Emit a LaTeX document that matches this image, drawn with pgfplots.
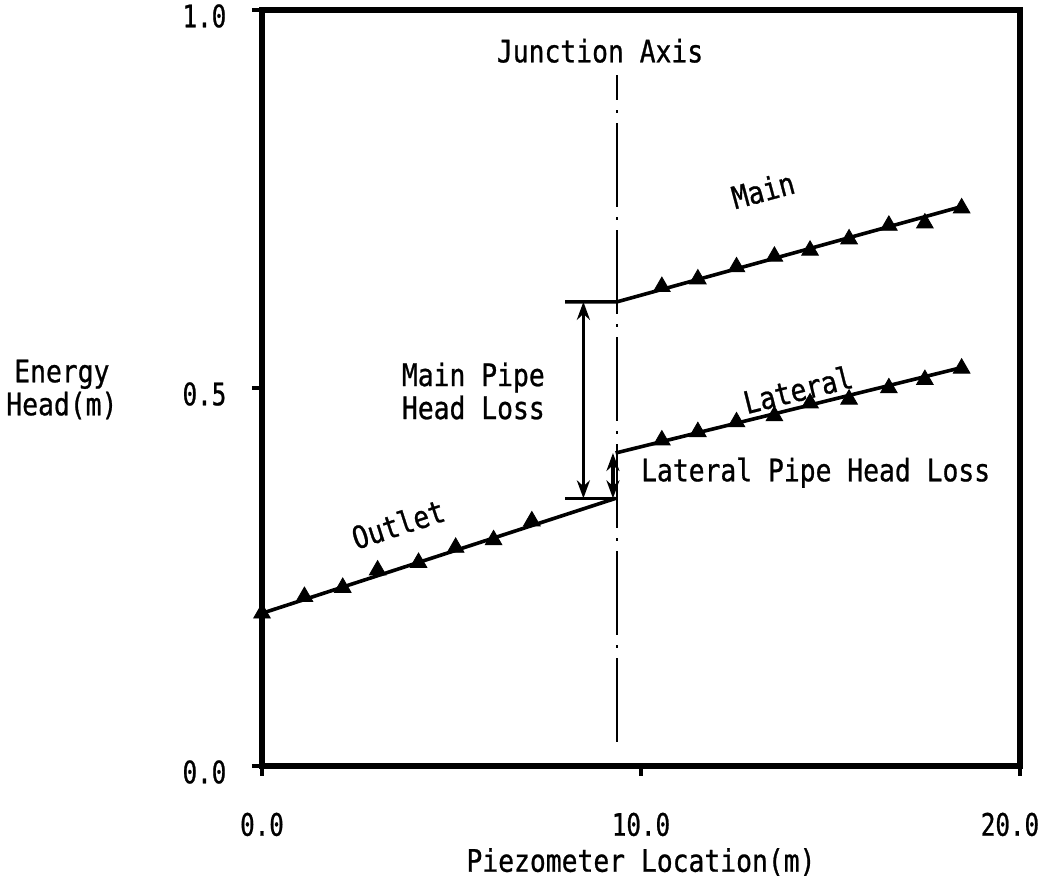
\documentclass[border=0pt]{standalone}
\usepackage{fontspec}
\setmainfont{DejaVu Sans Mono}[FakeStretch=0.85, FakeBold=0.8]
\newfontfamily\tickfont{DejaVu Sans Mono}[FakeStretch=0.78, FakeBold=0.8]
\usepackage{pgfplots}
\pgfplotsset{compat=1.18}
\usetikzlibrary{arrows.meta}

\tikzset{hl/.style={line width=1.6pt,
  arrows={Stealth[length=9pt,width=6.5pt]-Stealth[length=9pt,width=6.5pt]}}}

\begin{document}
\fontsize{15.5pt}{16.5pt}\selectfont
\begin{tikzpicture}[font=\fontsize{15.5pt}{16.5pt}\selectfont]
\useasboundingbox (0,0) rectangle (524pt,441pt);
\begin{axis}[
  at={(131pt,58pt)}, anchor=south west,
  scale only axis, width=379pt, height=378pt,
  xmin=0, xmax=20, ymin=0, ymax=1,
  clip=false,
  axis line style={line width=2.7pt},
  xtick={0,10,20}, ytick={0,0.5,1},
  xticklabels={0.0,10.0,\hspace*{-10pt}20.0},
  yticklabels={0.0,0.5,1.0},
  tick align=outside, xtick pos=bottom, ytick pos=left,
  major tick length=5pt,
  every tick/.style={line width=1.8pt, black},
  ticklabel style={font=\fontsize{15.5pt}{16.5pt}\tickfont},
  xticklabel style={yshift=-13pt},
  yticklabel style={xshift=-7.5pt, yshift=-3pt},
  xlabel={Piezometer Location(m)},
  xlabel style={at={(axis description cs:0.5,-0.127)}, anchor=center},
  ylabel={Energy\\Head(m)},
  ylabel style={rotate=-90, align=center, at={(axis description cs:-0.264,0.498)}, anchor=center},
]
% junction axis
\addplot[line width=1.3pt, dash pattern=on 42pt off 5pt on 1.5pt off 5pt]
  coordinates {(9.37,0.032) (9.37,0.914)};

% fitted energy lines
\addplot[line width=1.8pt] coordinates {(0,0.202) (9.33,0.354)};
\addplot[line width=1.8pt] coordinates {(8.0,0.614) (9.37,0.614) (18.46,0.740)};
\addplot[line width=1.8pt] coordinates {(9.33,0.414) (18.46,0.527)};
\addplot[line width=1.8pt] coordinates {(8.0,0.354) (9.33,0.354)};

% measured heads
\addplot[only marks, mark=triangle*, mark size=4.8pt, mark options={fill=black}]
  coordinates {(0,0.202) (1.12,0.224) (2.13,0.236) (3.05,0.259) (4.13,0.269)
               (5.11,0.289) (6.11,0.299) (7.12,0.324)};
\addplot[only marks, mark=triangle*, mark size=4.8pt, mark options={fill=black}]
  coordinates {(10.55,0.634) (11.50,0.644) (12.52,0.660) (13.52,0.674) (14.46,0.682)
               (15.49,0.697) (16.54,0.715) (17.49,0.718) (18.46,0.738)};
\addplot[only marks, mark=triangle*, mark size=4.8pt, mark options={fill=black}]
  coordinates {(10.55,0.431) (11.50,0.442) (12.52,0.455) (13.52,0.463) (14.46,0.480)
               (15.49,0.485) (16.54,0.500) (17.49,0.511) (18.46,0.526)};

% head losses at the junction
\addplot[hl] coordinates {(8.48,0.354) (8.48,0.614)};
\addplot[hl] coordinates {(9.26,0.354) (9.26,0.414)};

\node at (axis cs:8.92,0.946) {Junction Axis};
\node[rotate=15] at (axis cs:13.22,0.762) {Main};
\node[rotate=14] at (axis cs:14.14,0.498) {Lateral};
\node[rotate=18] at (axis cs:3.59,0.320) {Outlet};
\node[anchor=west, align=left] at (axis cs:3.41,0.496) {Main Pipe\\Head Loss};
\node[anchor=west] at (axis cs:9.72,0.388) {Lateral Pipe Head Loss};
\end{axis}
\end{tikzpicture}
\end{document}
